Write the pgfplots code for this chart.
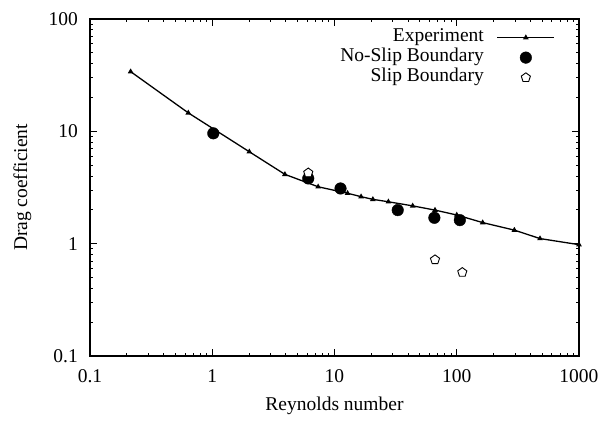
\documentclass[border=0pt]{standalone}
\usepackage{fontspec}
\setmainfont{Liberation Serif}
\usepackage{pgfplots}
\pgfplotsset{compat=1.18}
\pgfplotsset{
  linelegend/.style={legend image code/.code={\draw[##1] (0cm,0cm) -- (2cm,0cm); \draw[##1, only marks] plot coordinates {(1cm,0cm)};}},
  marklegend/.style={legend image code/.code={\draw[##1] plot coordinates {(1cm,0cm)};}},
}
\begin{document}
\fontsize{19.5bp}{23bp}\selectfont
\begin{tikzpicture}
\useasboundingbox (0,0) rectangle (601bp,421bp);
\begin{axis}[
  at={(90bp,65bp)}, anchor=south west,
  scale only axis, width=489bp, height=337bp,
  xmode=log, ymode=log,
  xmin=0.1, xmax=1000, ymin=0.1, ymax=100,
  log ticks with fixed point,
  /pgf/number format/1000 sep={},
  /pgf/number format/assume math mode=true,
  tick align=inside,
  major tick length=7bp, minor tick length=3.5bp,
  every tick/.style={black, line width=0.9bp},
  axis line style={line width=1.2bp},
  xticklabel style={anchor=base, yshift=-26bp, inner sep=0pt},
  yticklabel style={anchor=east, xshift=-12bp, inner sep=0pt},
  xlabel={Reynolds number}, ylabel={Drag coefficient},
  every axis x label/.style={at={(axis description cs:0.5,-0.163)}, anchor=base},
  every axis y label/.style={at={(axis description cs:-0.1288,0.5)}, anchor=base, rotate=90},
  legend plot pos=right,
  legend cell align=right,
  legend style={at={(axis description cs:0.951,0.975)}, anchor=north east,
    draw=none, fill=none, inner sep=0pt, row sep=0pt, /tikz/column sep=13bp,
    font=\fontsize{19.5bp}{23bp}\selectfont,
    nodes={inner sep=0pt, text height=14bp, text depth=6bp}},
]
\addplot[black, line width=1.3bp, mark=triangle*, mark size=2bp, linelegend]
  coordinates {(0.215,34) (0.637,14.6) (2.01,6.58) (3.93,4.14) (7.35,3.21)
  (12.8,2.81) (16.5,2.62) (20.6,2.48) (27.6,2.36) (43.6,2.17) (66.4,1.99)
  (100,1.80) (163,1.54) (296,1.32) (480,1.11) (1000,0.98)};
\addlegendentry{Experiment}
\addplot[only marks, mark=*, mark size=5.8bp, black, marklegend]
  coordinates {(1.02,9.6) (6.1,3.81) (11.2,3.1) (32.9,1.99) (65.6,1.70) (106,1.62)};
\addlegendentry{No-Slip Boundary}
\addplot[only marks, mark=pentagon*, mark size=4.8bp, black,
  mark options={fill=white, line width=0.9bp}, marklegend]
  coordinates {(6.1,4.27) (66.4,0.72) (111,0.555)};
\addlegendentry{Slip Boundary}
\end{axis}
\end{tikzpicture}
\end{document}
